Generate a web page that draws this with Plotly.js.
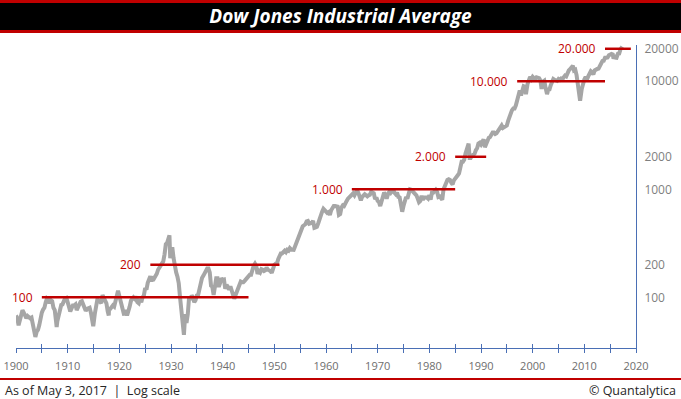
<!DOCTYPE html>
<html>
<head>
<meta charset="utf-8">
<script src="https://cdn.plot.ly/plotly-3.0.1.min.js"></script>
<style>html,body{margin:0;padding:0;background:#fff;}#chart{width:681px;height:399px;}</style>
</head>
<body>
<div id="chart"></div>
<script>
// Dow Jones Industrial Average, approximate quarterly readings (decimal year, index level)
const dates = [
1900.00,1900.25,1900.50,1900.75, 1901.00,1901.25,1901.50,1901.75, 1902.00,1902.25,1902.50,1902.75,
1903.00,1903.25,1903.50,1903.75, 1904.00,1904.25,1904.50,1904.75, 1905.00,1905.25,1905.50,1905.75,
1906.00,1906.25,1906.50,1906.75, 1907.00,1907.25,1907.50,1907.75,1907.87, 1908.00,1908.25,1908.50,1908.75,
1909.00,1909.25,1909.50,1909.75, 1910.00,1910.25,1910.50,1910.75, 1911.00,1911.25,1911.50,1911.75,
1912.00,1912.25,1912.50,1912.75, 1913.00,1913.25,1913.50,1913.75, 1914.00,1914.25,1914.50,1914.75,1914.95,
1915.00,1915.25,1915.50,1915.75, 1916.00,1916.25,1916.50,1916.75, 1917.00,1917.25,1917.50,1917.75,1917.95,
1918.00,1918.25,1918.50,1918.75, 1919.00,1919.25,1919.50,1919.75, 1920.00,1920.25,1920.50,1920.75,1920.95,
1921.00,1921.25,1921.50,1921.75, 1922.00,1922.25,1922.50,1922.75, 1923.00,1923.25,1923.50,1923.75,
1924.00,1924.25,1924.50,1924.75, 1925.00,1925.25,1925.50,1925.75, 1926.00,1926.25,1926.50,1926.75,
1927.00,1927.25,1927.50,1927.75, 1928.00,1928.25,1928.50,1928.75, 1929.00,1929.25,1929.50,1929.70,1929.85,
1930.00,1930.25,1930.50,1930.75, 1931.00,1931.25,1931.50,1931.75,1931.95, 1932.00,1932.25,1932.50,1932.75,
1933.00,1933.25,1933.50,1933.75, 1934.00,1934.25,1934.50,1934.75, 1935.00,1935.25,1935.50,1935.75,
1936.00,1936.25,1936.50,1936.75, 1937.00,1937.25,1937.50,1937.75, 1938.00,1938.25,1938.50,1938.75,
1939.00,1939.25,1939.50,1939.75, 1940.00,1940.25,1940.50,1940.75, 1941.00,1941.25,1941.50,1941.75,
1942.00,1942.25,1942.50,1942.75, 1943.00,1943.25,1943.50,1943.75, 1944.00,1944.25,1944.50,1944.75,
1945.00,1945.25,1945.50,1945.75, 1946.00,1946.25,1946.50,1946.75, 1947.00,1947.25,1947.50,1947.75,
1948.00,1948.25,1948.50,1948.75, 1949.00,1949.25,1949.50,1949.75, 1950.00,1950.25,1950.50,1950.75,
1951.00,1951.25,1951.50,1951.75, 1952.00,1952.25,1952.50,1952.75, 1953.00,1953.25,1953.50,1953.75,
1954.00,1954.25,1954.50,1954.75, 1955.00,1955.25,1955.50,1955.75, 1956.00,1956.25,1956.50,1956.75,
1957.00,1957.25,1957.50,1957.75, 1958.00,1958.25,1958.50,1958.75, 1959.00,1959.25,1959.50,1959.75,
1960.00,1960.25,1960.50,1960.75, 1961.00,1961.25,1961.50,1961.75, 1962.00,1962.25,1962.50,1962.75,
1963.00,1963.25,1963.50,1963.75, 1964.00,1964.25,1964.50,1964.75, 1965.00,1965.25,1965.50,1965.75,
1966.00,1966.25,1966.50,1966.75, 1967.00,1967.25,1967.50,1967.75, 1968.00,1968.25,1968.50,1968.75,
1969.00,1969.25,1969.50,1969.75, 1970.00,1970.25,1970.50,1970.75, 1971.00,1971.25,1971.50,1971.75,
1972.00,1972.25,1972.50,1972.75, 1973.00,1973.25,1973.50,1973.75, 1974.00,1974.25,1974.50,1974.75,
1975.00,1975.25,1975.50,1975.75, 1976.00,1976.25,1976.50,1976.75, 1977.00,1977.25,1977.50,1977.75,
1978.00,1978.25,1978.50,1978.75, 1979.00,1979.25,1979.50,1979.75, 1980.00,1980.25,1980.50,1980.75,
1981.00,1981.25,1981.50,1981.75, 1982.00,1982.25,1982.50,1982.75, 1983.00,1983.25,1983.50,1983.75,
1984.00,1984.25,1984.50,1984.75, 1985.00,1985.25,1985.50,1985.75, 1986.00,1986.25,1986.50,1986.75,
1987.00,1987.25,1987.60,1987.80, 1988.00,1988.25,1988.50,1988.75, 1989.00,1989.25,1989.50,1989.75,
1990.00,1990.25,1990.50,1990.75, 1991.00,1991.25,1991.50,1991.75, 1992.00,1992.25,1992.50,1992.75,
1993.00,1993.25,1993.50,1993.75, 1994.00,1994.25,1994.50,1994.75, 1995.00,1995.25,1995.50,1995.75,
1996.00,1996.25,1996.50,1996.75, 1997.00,1997.25,1997.50,1997.75, 1998.00,1998.25,1998.50,1998.70,
1999.00,1999.25,1999.50,1999.75, 2000.00,2000.25,2000.50,2000.75, 2001.00,2001.25,2001.50,2001.72,
2002.00,2002.25,2002.50,2002.78, 2003.00,2003.25,2003.50,2003.75, 2004.00,2004.25,2004.50,2004.75,
2005.00,2005.25,2005.50,2005.75, 2006.00,2006.25,2006.50,2006.75, 2007.00,2007.25,2007.50,2007.78,
2008.00,2008.25,2008.50,2008.75,2008.90, 2009.00,2009.18,2009.50,2009.75, 2010.00,2010.25,2010.50,2010.75,
2011.00,2011.25,2011.50,2011.75, 2012.00,2012.25,2012.50,2012.75, 2013.00,2013.25,2013.50,2013.75,
2014.00,2014.25,2014.50,2014.75, 2015.00,2015.25,2015.50,2015.65, 2016.00,2016.12,2016.50,2016.75,
2017.00,2017.20,2017.34
];
const dow = [
68,64,55,62, 70,76,72,66, 64,67,66,64,
65,58,50,43, 48,50,55,66, 72,77,80,90,
98,96,88,94, 92,80,76,60,53, 60,70,80,85,
86,92,98,99, 92,82,74,82, 84,84,86,76,
81,90,91,92, 86,79,75,78, 80,80,72,60,54,
56,70,80,96, 94,90,88,105, 97,93,88,74,68,
77,78,81,84, 82,94,107,115, 103,93,86,75,68,
74,74,68,73, 82,93,96,100, 97,102,90,88,
97,90,100,104, 122,118,136,152, 157,140,155,150,
156,165,180,190, 200,210,215,250, 310,320,350,375,230,
265,290,230,190, 170,155,135,100,78, 76,58,45,70,
58,70,100,95, 104,100,90,94, 104,105,122,140,
151,158,165,175, 185,185,170,128, 125,105,140,150,
150,125,135,150, 145,146,120,130, 125,118,126,116,
108,97,105,114, 124,135,140,138, 138,142,147,150,
154,162,162,185, 196,205,195,165, 175,170,182,180,
175,178,188,180, 178,175,168,190, 200,205,205,225,
245,255,255,265, 270,262,275,270, 285,277,275,275,
295,320,345,355, 400,415,455,465, 475,505,510,480,
480,490,510,440, 445,450,485,540, 590,620,660,645,
625,605,615,580, 640,680,700,700, 700,690,580,590,
680,710,700,755, 780,820,840,875, 900,915,880,950,
980,930,850,790, 850,880,900,880, 860,880,890,950,
930,920,810,840, 780,760,700,760, 860,935,880,820,
900,950,925,960, 1000,930,900,930, 850,840,750,620,
700,820,850,820, 960,1000,990,960, 950,920,880,820,
760,780,870,800, 840,840,840,820, 880,800,930,930,
950,990,950,850, 860,840,800,1000, 1070,1180,1220,1240,
1220,1150,1110,1210, 1270,1280,1350,1400, 1570,1800,1800,1880,
2150,2300,2650,1950, 1950,2050,2100,2130, 2300,2400,2650,2700,
2600,2700,2900,2450, 2650,2900,3000,3050, 3220,3350,3350,3250,
3300,3450,3550,3650, 3900,3700,3750,3850, 3900,4300,4700,4800,
5400,5600,5600,6000, 6800,7000,8200,7400, 8000,9000,8900,7600,
9400,10700,11000,10500, 11000,10700,10500,10900, 10800,10700,10200,8500,
9900,10100,8700,7600, 8300,8400,9200,9700, 10500,10300,10100,10100,
10500,10300,10600,10400, 10900,11300,11100,12000, 12600,13000,13500,13900,
12600,12800,11400,9300,8300, 8800,6600,8500,9700, 10400,11000,10400,11100,
11900,12400,12100,11600, 12600,13000,13000,13100, 13900,14800,15400,15500,
16500,16500,16600,17400, 17800,17900,17700,16200, 17400,16000,18000,18100,
19800,20700,20950
];

// Milestone levels drawn as red bars
const levelValues = [100, 200, 1000, 2000, 10000, 20000];
const levelStart  = [1905, 1926, 1965, 1985, 1997, 2014];
const levelEnd    = [1945, 1951, 1985, 1991, 2014, 2019];
const levelLabels = ['100', '200', '1.000', '2.000', '10.000', '20.000'];

// Axis ticks
const xTickVals = [1900,1905,1910,1915,1920,1925,1930,1935,1940,1945,1950,1955,1960,1965,1970,1975,1980,1985,1990,1995,2000,2005,2010,2015,2020];
const xTickText = ['1900','','1910','','1920','','1930','','1940','','1950','','1960','','1970','','1980','','1990','','2000','','2010','','2020'];
const yTickVals = [100, 200, 1000, 2000, 10000, 20000];
const yTickText = ['100', '200', '1000', '2000', '10000', '20000'];

const RED = '#C00000';
const AXIS = '#4A6FB5';
const FONT = 'Open Sans, Noto Sans, sans-serif';

const traces = [{
  x: dates, y: dow, type: 'scatter', mode: 'lines',
  line: {color: '#A6A6A6', width: 4}, hoverinfo: 'skip', xaxis: 'x', yaxis: 'y'
}];
levelValues.forEach((v, i) => {
  traces.push({
    x: [levelStart[i], levelEnd[i]], y: [v, v], type: 'scatter', mode: 'lines',
    line: {color: RED, width: 2.5}, hoverinfo: 'skip', xaxis: 'x2', yaxis: 'y'
  });
});

const pY = p => (348 - p) / 303;      // pixel row -> paper y
const pX = p => (p - 15.7) / 620;     // pixel col -> paper x

const annotations = levelValues.map((v, i) => ({
  x: levelStart[i], y: Math.log10(v), xref: 'x', yref: 'y',
  text: levelLabels[i], showarrow: false, xanchor: 'right', yanchor: 'middle',
  xshift: -7, font: {family: FONT, size: 12, color: RED}
}));
annotations.push({
  x: pX(3), y: pY(390), xref: 'paper', yref: 'paper', xanchor: 'left', yanchor: 'middle',
  text: 'As of May 3, 2017 \u00a0|\u00a0 Log scale', showarrow: false,
  font: {family: FONT, size: 12.5, color: '#262626'}
});
annotations.push({
  x: pX(678), y: pY(390), xref: 'paper', yref: 'paper', xanchor: 'right', yanchor: 'middle',
  text: '\u00a9 Quantalytica', showarrow: false,
  font: {family: FONT, size: 12.5, color: '#262626'}
});

const layout = {
  width: 681, height: 399,
  margin: {l: 15.7, r: 45.3, t: 45, b: 51, pad: 0},
  paper_bgcolor: '#FFFFFF', plot_bgcolor: '#FFFFFF',
  showlegend: false,
  font: {family: FONT, color: '#595959'},
  title: {
    text: 'Dow Jones Industrial Average',
    font: {family: FONT, size: 19, color: '#FFFFFF', weight: 700, style: 'italic'},
    x: 0.5, xref: 'container', xanchor: 'center',
    y: 1 - 16.5 / 399, yref: 'container', yanchor: 'middle'
  },
  xaxis: {
    range: [1900, 2020], showgrid: false, zeroline: false,
    showline: true, linecolor: AXIS, linewidth: 1,
    tickmode: 'array', tickvals: xTickVals, ticktext: xTickText,
    ticks: 'outside', ticklen: 4, tickcolor: AXIS, tickwidth: 1,
    tickfont: {family: FONT, size: 11, color: '#6E6E6E'}, ticklabelstandoff: 4
  },
  xaxis2: {
    range: [1900, 2020], overlaying: 'x', anchor: 'free', position: 0, side: 'bottom',
    showgrid: false, zeroline: false, showline: false, showticklabels: false,
    tickmode: 'array', tickvals: xTickVals,
    ticks: 'inside', ticklen: 4, tickcolor: AXIS, tickwidth: 1
  },
  yaxis: {
    type: 'log', range: [1.5306, 4.336], side: 'right',
    showgrid: false, zeroline: false, showline: true, linecolor: AXIS, linewidth: 1,
    tickmode: 'array', tickvals: yTickVals, ticktext: yTickText, ticks: '',
    tickfont: {family: FONT, size: 12, color: '#7F7F7F'}, ticklabelstandoff: 5
  },
  shapes: [
    {type: 'rect', xref: 'paper', yref: 'paper', x0: pX(-5), x1: pX(690), y0: pY(33), y1: pY(-2),
     fillcolor: RED, line: {width: 0}, layer: 'above'},
    {type: 'rect', xref: 'paper', yref: 'paper', x0: pX(-5), x1: pX(690), y0: pY(30), y1: pY(3),
     fillcolor: '#000000', line: {width: 0}, layer: 'above'},
    {type: 'line', xref: 'paper', yref: 'paper', x0: pX(-5), x1: pX(690), y0: pY(379), y1: pY(379),
     line: {color: RED, width: 2}, layer: 'above'}
  ],
  annotations: annotations
};

Plotly.newPlot('chart', traces, layout, {displayModeBar: false, staticPlot: true});
</script>
</body>
</html>
